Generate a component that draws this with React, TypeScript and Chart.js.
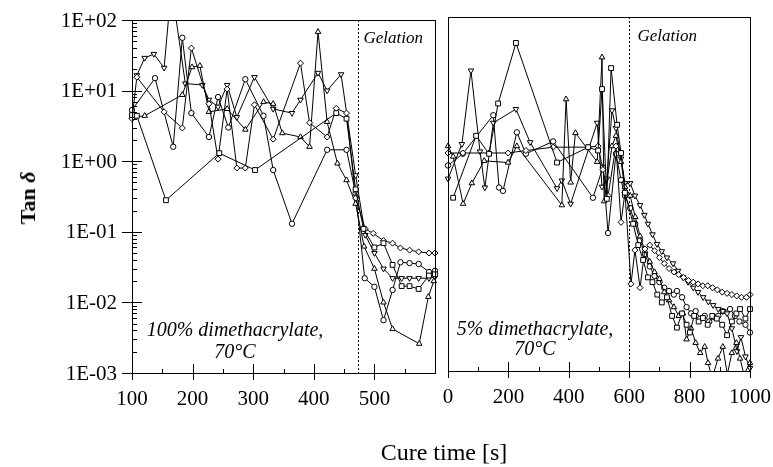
import React, { useEffect, useRef } from "react";
import { Chart, registerables } from "chart.js";
Chart.register(...registerables);

const FONT = '"Liberation Serif", "Times New Roman", serif';

// ---------- Left panel: 100% dimethacrylate, 70°C ----------
const L_X_TICKS = [100, 200, 300, 400, 500];
const L_X_MINOR = [150, 250, 350, 450, 550];
const L_Y_TICKS = [100, 10, 1, 0.1, 0.01, 0.001];
const L_Y_LABELS = ["1E+02", "1E+01", "1E+00", "1E-01", "1E-02", "1E-03"];
const L_GEL = 473;

const L_CIRCLE_T = [100, 138, 168, 183, 198, 227, 242, 259, 287, 317, 333, 364, 422, 454, 469, 484, 500, 515, 530, 543, 558, 573, 590, 600];
const L_CIRCLE_V = [5.3, 15, 1.6, 56, 4.8, 2.2, 8.1, 3.0, 14.5, 4.4, 0.75, 0.13, 1.45, 1.45, 0.35, 0.022, 0.0166, 0.0056, 0.015, 0.037, 0.036, 0.035, 0.027, 0.028];

const L_DIAMOND_T = [100, 108, 153, 183, 198, 227, 242, 257, 273, 287, 302, 333, 378, 393, 422, 437, 454, 469, 485, 498, 515, 530, 543, 558, 573, 590, 600];
const L_DIAMOND_V = [4.0, 15.5, 5.0, 2.95, 40, 6.5, 1.07, 10.5, 0.8, 0.8, 6.3, 2.05, 24.5, 3.5, 2.2, 5.6, 4.8, 0.3, 0.11, 0.095, 0.075, 0.069, 0.059, 0.055, 0.052, 0.05, 0.05];

const L_UP_T = [100, 121, 183, 199, 212, 227, 257, 287, 317, 333, 348, 378, 393, 407, 422, 439, 454, 469, 483, 500, 515, 530, 574, 589, 598];
const L_UP_V = [4.2, 4.4, 8.7, 21.5, 22.5, 5.0, 5.5, 2.8, 6.9, 6.5, 2.5, 2.2, 1.6, 68, 3.6, 0.93, 0.54, 0.25, 0.062, 0.03, 0.01, 0.0042, 0.0026, 0.012, 0.02];

const L_DOWN_T = [108, 121, 136, 153, 165, 188, 216, 227, 242, 257, 273, 302, 333, 364, 378, 407, 422, 445, 469, 485, 500, 515, 530, 545, 558, 573, 590, 600];
const L_DOWN_V = [16.5, 29, 33, 21, 300, 12.6, 12, 7.4, 5.9, 12, 4.2, 15.5, 5.5, 4.8, 7.4, 17.8, 10, 17, 0.63, 0.09, 0.05, 0.03, 0.022, 0.022, 0.022, 0.022, 0.022, 0.023];

const L_SQUARE_T = [100, 108, 156, 244, 303, 437, 454, 469, 482, 500, 515, 530, 545, 558, 573, 590, 600];
const L_SQUARE_V = [4.5, 4.4, 0.28, 1.3, 0.75, 4.8, 4.0, 0.4, 0.11, 0.06, 0.069, 0.034, 0.017, 0.017, 0.0155, 0.024, 0.025];

// ---------- Right panel: 5% dimethacrylate, 70°C ----------
const R_X_TICKS = [0, 200, 400, 600, 800, 1000];
const R_X_MINOR = [100, 300, 500, 700, 900];
const R_GEL = 600;

const R_UP_T = [0, 17, 50, 79, 120, 199, 228, 377, 391, 406, 422, 494, 510, 517, 543, 556, 573, 586, 603, 620, 636, 652, 668, 684, 700, 716, 732, 748, 764, 778, 790, 805, 820, 835, 850, 861, 875, 894, 910, 925, 940, 955, 967, 980, 1000];
const R_UP_V = [1.5, 1.07, 0.23, 0.45, 0.93, 0.88, 1.5, 0.22, 6.9, 0.46, 2.3, 0.9, 27, 0.25, 1.5, 2.1, 0.9, 0.4, 0.3, 0.15, 0.08, 0.05, 0.035, 0.025, 0.02, 0.013, 0.01, 0.008, 0.006, 0.0065, 0.0028, 0.004, 0.0025, 0.0018, 0.0022, 0.0013, 0.0008, 0.0015, 0.0022, 0.0009, 0.0018, 0.0025, 0.0015, 0.0009, 0.0013];

const R_DOWN_T = [0, 46, 76, 106, 122, 150, 225, 272, 361, 377, 406, 494, 510, 526, 543, 556, 573, 586, 603, 619, 636, 650, 662, 677, 692, 708, 725, 745, 762, 778, 795, 812, 828, 845, 862, 878, 895, 910, 924, 940, 957, 970, 985, 1000];
const R_DOWN_V = [0.52, 1.6, 17.5, 1.26, 0.39, 3.2, 5.0, 1.7, 0.38, 0.49, 0.23, 3.2, 0.4, 0.52, 4.8, 2.7, 1.0, 0.45, 0.45, 0.3, 0.22, 0.16, 0.12, 0.085, 0.062, 0.049, 0.04, 0.033, 0.026, 0.021, 0.018, 0.015, 0.013, 0.011, 0.0095, 0.0085, 0.0075, 0.007, 0.0065, 0.004, 0.0019, 0.003, 0.0016, 0.0011];

const R_SQUARE_T = [17, 93, 136, 166, 225, 361, 464, 497, 510, 526, 540, 560, 573, 586, 613, 630, 646, 662, 677, 693, 708, 725, 742, 758, 775, 790, 801, 815, 830, 844, 860, 875, 890, 908, 924, 940, 955, 967, 985, 1000];
const R_SQUARE_V = [0.28, 2.1, 1.17, 6.0, 43, 0.88, 1.45, 1.3, 9.6, 0.27, 19, 3.0, 1.2, 0.33, 0.12, 0.06, 0.037, 0.021, 0.018, 0.012, 0.0093, 0.011, 0.006, 0.0041, 0.0065, 0.0045, 0.0035, 0.006, 0.005, 0.0056, 0.0045, 0.006, 0.0055, 0.0045, 0.0032, 0.005, 0.0065, 0.0075, 0.0055, 0.0075];

const R_CIRCLE_T = [0, 49, 150, 169, 182, 228, 258, 348, 480, 513, 530, 556, 573, 586, 603, 620, 636, 652, 668, 684, 700, 716, 732, 748, 758, 775, 790, 805, 820, 835, 850, 865, 880, 895, 910, 934, 950, 965, 985, 1000];
const R_CIRCLE_V = [0.8, 1.17, 4.1, 0.39, 0.35, 2.35, 1.17, 1.75, 0.28, 0.75, 0.089, 1.17, 0.5, 0.3, 0.2, 0.12, 0.07, 0.045, 0.03, 0.022, 0.018, 0.015, 0.0135, 0.012, 0.0135, 0.011, 0.008, 0.0065, 0.007, 0.0055, 0.006, 0.005, 0.0058, 0.006, 0.007, 0.0075, 0.006, 0.005, 0.0045, 0.0035];

const R_DIAMOND_T = [0, 49, 136, 199, 258, 348, 464, 497, 513, 530, 556, 573, 586, 606, 619, 636, 652, 668, 684, 700, 716, 732, 748, 764, 780, 796, 812, 828, 844, 860, 876, 892, 908, 924, 940, 956, 972, 988, 1000];
const R_DIAMOND_V = [1.2, 1.2, 1.2, 1.2, 1.3, 1.45, 1.45, 1.5, 0.7, 0.3, 1.5, 0.126, 0.33, 0.017, 0.051, 0.015, 0.053, 0.06, 0.05, 0.04, 0.033, 0.028, 0.025, 0.023, 0.021, 0.019, 0.018, 0.017, 0.016, 0.016, 0.015, 0.014, 0.013, 0.0125, 0.012, 0.0115, 0.011, 0.011, 0.012];

type Shape = "circle" | "square" | "up" | "down" | "diamond";
const SHAPES: Record<Shape, { style: string; rot: number; r: number }> = {
  circle: { style: "circle", rot: 0, r: 2.7 },
  square: { style: "rect", rot: 0, r: 3.4 },
  up: { style: "triangle", rot: 0, r: 3.2 },
  down: { style: "triangle", rot: 180, r: 3.2 },
  diamond: { style: "rectRot", rot: 0, r: 3.0 },
};

function ds(t: number[], v: number[], shape: Shape) {
  const s = SHAPES[shape];
  return {
    data: t.map((x, i) => ({ x, y: v[i] })),
    borderColor: "#000",
    borderWidth: 1,
    backgroundColor: "#fff",
    pointStyle: s.style,
    pointRotation: s.rot,
    pointRadius: s.r,
    pointBorderWidth: 1,
    pointBackgroundColor: "#fff",
    pointBorderColor: "#000",
    tension: 0,
    fill: false,
    clip: { left: 5, right: 5, top: 0, bottom: 0 },
  };
}

type PanelCfg = {
  xMajor: number[];
  xMinor: number[];
  yMajor: number[] | null;
  yLabels: string[] | null;
  gel: number;
  gelDx: number;
  gelDy: number;
  note: string[];
  noteDx: number;
  noteY: number[];
};

function panelPlugin(cfg: PanelCfg) {
  return {
    id: "panel",
    afterDraw(chart: any) {
      const ctx = chart.ctx as CanvasRenderingContext2D;
      const a = chart.chartArea;
      const xs = chart.scales.x;
      const ys = chart.scales.y;
      ctx.save();
      ctx.strokeStyle = "#000";
      ctx.fillStyle = "#000";
      ctx.lineWidth = 1;
      // frame
      ctx.strokeRect(a.left + 0.5, a.top + 0.5, a.right - a.left, a.bottom - a.top);
      // gelation dotted line
      const gx = Math.round(xs.getPixelForValue(cfg.gel)) + 0.5;
      ctx.setLineDash([2, 2]);
      ctx.beginPath();
      ctx.moveTo(gx, a.top);
      ctx.lineTo(gx, a.bottom);
      ctx.stroke();
      ctx.setLineDash([]);
      // x ticks
      ctx.beginPath();
      for (const v of cfg.xMajor) {
        const p = Math.round(xs.getPixelForValue(v)) + 0.5;
        ctx.moveTo(p, a.bottom - 9);
        ctx.lineTo(p, a.bottom + 7);
      }
      for (const v of cfg.xMinor) {
        const p = Math.round(xs.getPixelForValue(v)) + 0.5;
        ctx.moveTo(p, a.bottom - 4);
        ctx.lineTo(p, a.bottom);
      }
      ctx.stroke();
      ctx.font = `21px ${FONT}`;
      ctx.textAlign = "center";
      ctx.textBaseline = "middle";
      for (const v of cfg.xMajor) {
        const p = xs.getPixelForValue(v);
        ctx.fillText(String(v), p, a.bottom + 26);
      }
      // y ticks
      if (cfg.yMajor) {
        ctx.beginPath();
        cfg.yMajor.forEach((v) => {
          const p = Math.round(ys.getPixelForValue(v)) + 0.5;
          ctx.moveTo(a.left - 10, p);
          ctx.lineTo(a.left + 10, p);
        });
        for (let d = 0.001; d < 100; d *= 10) {
          for (let k = 2; k <= 9; k++) {
            const p = Math.round(ys.getPixelForValue(d * k)) + 0.5;
            ctx.moveTo(a.left, p);
            ctx.lineTo(a.left + 5, p);
          }
        }
        ctx.stroke();
        ctx.textAlign = "right";
        cfg.yMajor.forEach((v, i) => {
          const p = ys.getPixelForValue(v);
          ctx.fillText(cfg.yLabels ? cfg.yLabels[i] : "", a.left - 15, p + 1);
        });
      }
      // Gelation label
      ctx.font = `italic 17px ${FONT}`;
      ctx.textAlign = "left";
      ctx.textBaseline = "alphabetic";
      ctx.fillText("Gelation", gx + cfg.gelDx, a.top + cfg.gelDy);
      // Note
      ctx.font = `italic 20px ${FONT}`;
      ctx.textAlign = "center";
      cfg.note.forEach((line, i) => {
        ctx.fillText(line, a.left + cfg.noteDx, cfg.noteY[i]);
      });
      ctx.restore();
    },
  };
}

function makeChart(
  canvas: HTMLCanvasElement,
  datasets: any[],
  xMin: number,
  xMax: number,
  padding: any,
  yWidth: number,
  cfg: PanelCfg
) {
  return new Chart(canvas, {
    type: "line",
    data: { datasets },
    options: {
      animation: false,
      responsive: false,
      maintainAspectRatio: false,
      layout: { padding },
      plugins: { legend: { display: false }, tooltip: { enabled: false } },
      scales: {
        x: {
          type: "linear",
          min: xMin,
          max: xMax,
          grid: { display: false },
          border: { display: false },
          ticks: { display: false },
          afterFit: (s: any) => {
            s.height = 0;
          },
        },
        y: {
          type: "logarithmic",
          min: 0.001,
          max: 100,
          grid: { display: false },
          border: { display: false },
          ticks: { display: false },
          afterFit: (s: any) => {
            s.width = yWidth;
          },
        },
      },
    } as any,
    plugins: [panelPlugin(cfg)],
  });
}

export default function App() {
  const leftRef = useRef<HTMLCanvasElement>(null);
  const rightRef = useRef<HTMLCanvasElement>(null);

  useEffect(() => {
    const left = makeChart(
      leftRef.current!,
      [
        ds(L_SQUARE_T, L_SQUARE_V, "square"),
        ds(L_DIAMOND_T, L_DIAMOND_V, "diamond"),
        ds(L_UP_T, L_UP_V, "up"),
        ds(L_DOWN_T, L_DOWN_V, "down"),
        ds(L_CIRCLE_T, L_CIRCLE_V, "circle"),
      ],
      100,
      600,
      { top: 20, bottom: 94, left: 0, right: 10 },
      132,
      {
        xMajor: L_X_TICKS,
        xMinor: L_X_MINOR,
        yMajor: L_Y_TICKS,
        yLabels: L_Y_LABELS,
        gel: L_GEL,
        gelDx: 5,
        gelDy: 23,
        note: ["100% dimethacrylate,", "70°C"],
        noteDx: 103,
        noteY: [336, 358],
      }
    );
    const right = makeChart(
      rightRef.current!,
      [
        ds(R_SQUARE_T, R_SQUARE_V, "square"),
        ds(R_DIAMOND_T, R_DIAMOND_V, "diamond"),
        ds(R_UP_T, R_UP_V, "up"),
        ds(R_DOWN_T, R_DOWN_V, "down"),
        ds(R_CIRCLE_T, R_CIRCLE_V, "circle"),
      ],
      0,
      1000,
      { top: 17, bottom: 96, left: 0, right: 23 },
      8,
      {
        xMajor: R_X_TICKS,
        xMinor: R_X_MINOR,
        yMajor: null,
        yLabels: null,
        gel: R_GEL,
        gelDx: 8,
        gelDy: 24,
        note: ["5% dimethacrylate,", "70°C"],
        noteDx: 87,
        noteY: [335, 355],
      }
    );
    return () => {
      left.destroy();
      right.destroy();
    };
  }, []);

  return (
    <div
      style={{
        position: "absolute",
        left: 0,
        top: 0,
        width: 773,
        height: 467,
        background: "#fff",
        overflow: "hidden",
      }}
    >
      <canvas
        ref={leftRef}
        width={445}
        height={467}
        style={{ position: "absolute", left: 0, top: 0, width: 445, height: 467 }}
      />
      <canvas
        ref={rightRef}
        width={333}
        height={467}
        style={{ position: "absolute", left: 440, top: 0, width: 333, height: 467 }}
      />
      <div
        style={{
          position: "absolute",
          left: 28,
          top: 198,
          transform: "translate(-50%, -50%) rotate(-90deg)",
          font: `bold 22px ${FONT}`,
          whiteSpace: "nowrap",
          color: "#000",
        }}
      >
        Tan <i>δ</i>
      </div>
      <div
        style={{
          position: "absolute",
          left: 444,
          top: 452,
          transform: "translate(-50%, -50%)",
          font: `24px ${FONT}`,
          whiteSpace: "nowrap",
          color: "#000",
        }}
      >
        Cure time [s]
      </div>
    </div>
  );
}
